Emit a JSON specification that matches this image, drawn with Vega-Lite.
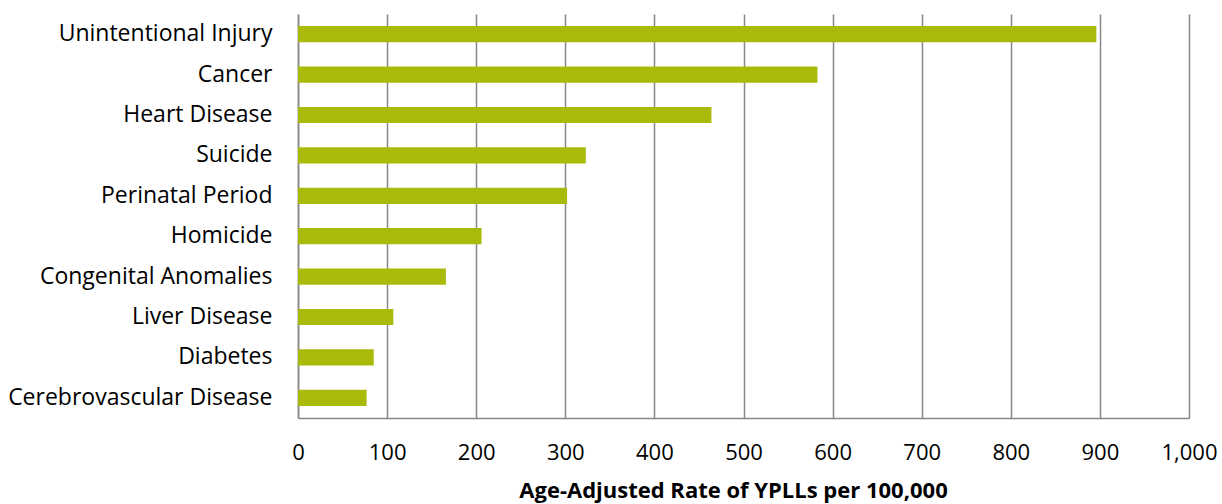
{
  "$schema": "https://vega.github.io/schema/vega-lite/v6.json",
  "autosize": {"type": "none"},
  "padding": {"left": 298, "top": 14, "right": 33, "bottom": 86},
  "width": 891,
  "height": 404,
  "background": "white",
  "config": {"view": {"stroke": null}, "font": "Open Sans"},
  "data": {"values": [
    {"cause": "Unintentional Injury", "rate": 896},
    {"cause": "Cancer", "rate": 583},
    {"cause": "Heart Disease", "rate": 464},
    {"cause": "Suicide", "rate": 323},
    {"cause": "Perinatal Period", "rate": 302},
    {"cause": "Homicide", "rate": 206},
    {"cause": "Congenital Anomalies", "rate": 166},
    {"cause": "Liver Disease", "rate": 107},
    {"cause": "Diabetes", "rate": 85},
    {"cause": "Cerebrovascular Disease", "rate": 77}
  ]},
  "mark": {"type": "bar", "color": "#A9BA0A"},
  "encoding": {
    "y": {"field": "cause", "type": "nominal", "sort": null,
      "scale": {"paddingInner": 0.6, "paddingOuter": 0.3},
      "axis": {"title": null, "ticks": false, "labelFontSize": 23, "labelPadding": 26, "labelColor": "#000000",
        "domainColor": "#888888", "domainWidth": 1.5, "labelLimit": 400}},
    "x": {"field": "rate", "type": "quantitative",
      "scale": {"domain": [0, 1000], "nice": false},
      "axis": {"values": [0,100,200,300,400,500,600,700,800,900,1000], "format": ",d",
        "title": "Age-Adjusted Rate of YPLLs per 100,000", "titleFontSize": 22, "titleFontWeight": "bold", "titleColor": "#000000",
        "titlePadding": 17, "titleX": 435, "titleAlign": "center",
        "labelFontSize": 22, "labelColor": "#000000", "labelPadding": 24, "labelFlush": false, "ticks": false,
        "grid": true, "gridColor": "#888888", "gridWidth": 1.5,
        "domainColor": "#888888", "domainWidth": 1.5}}
  }
}
